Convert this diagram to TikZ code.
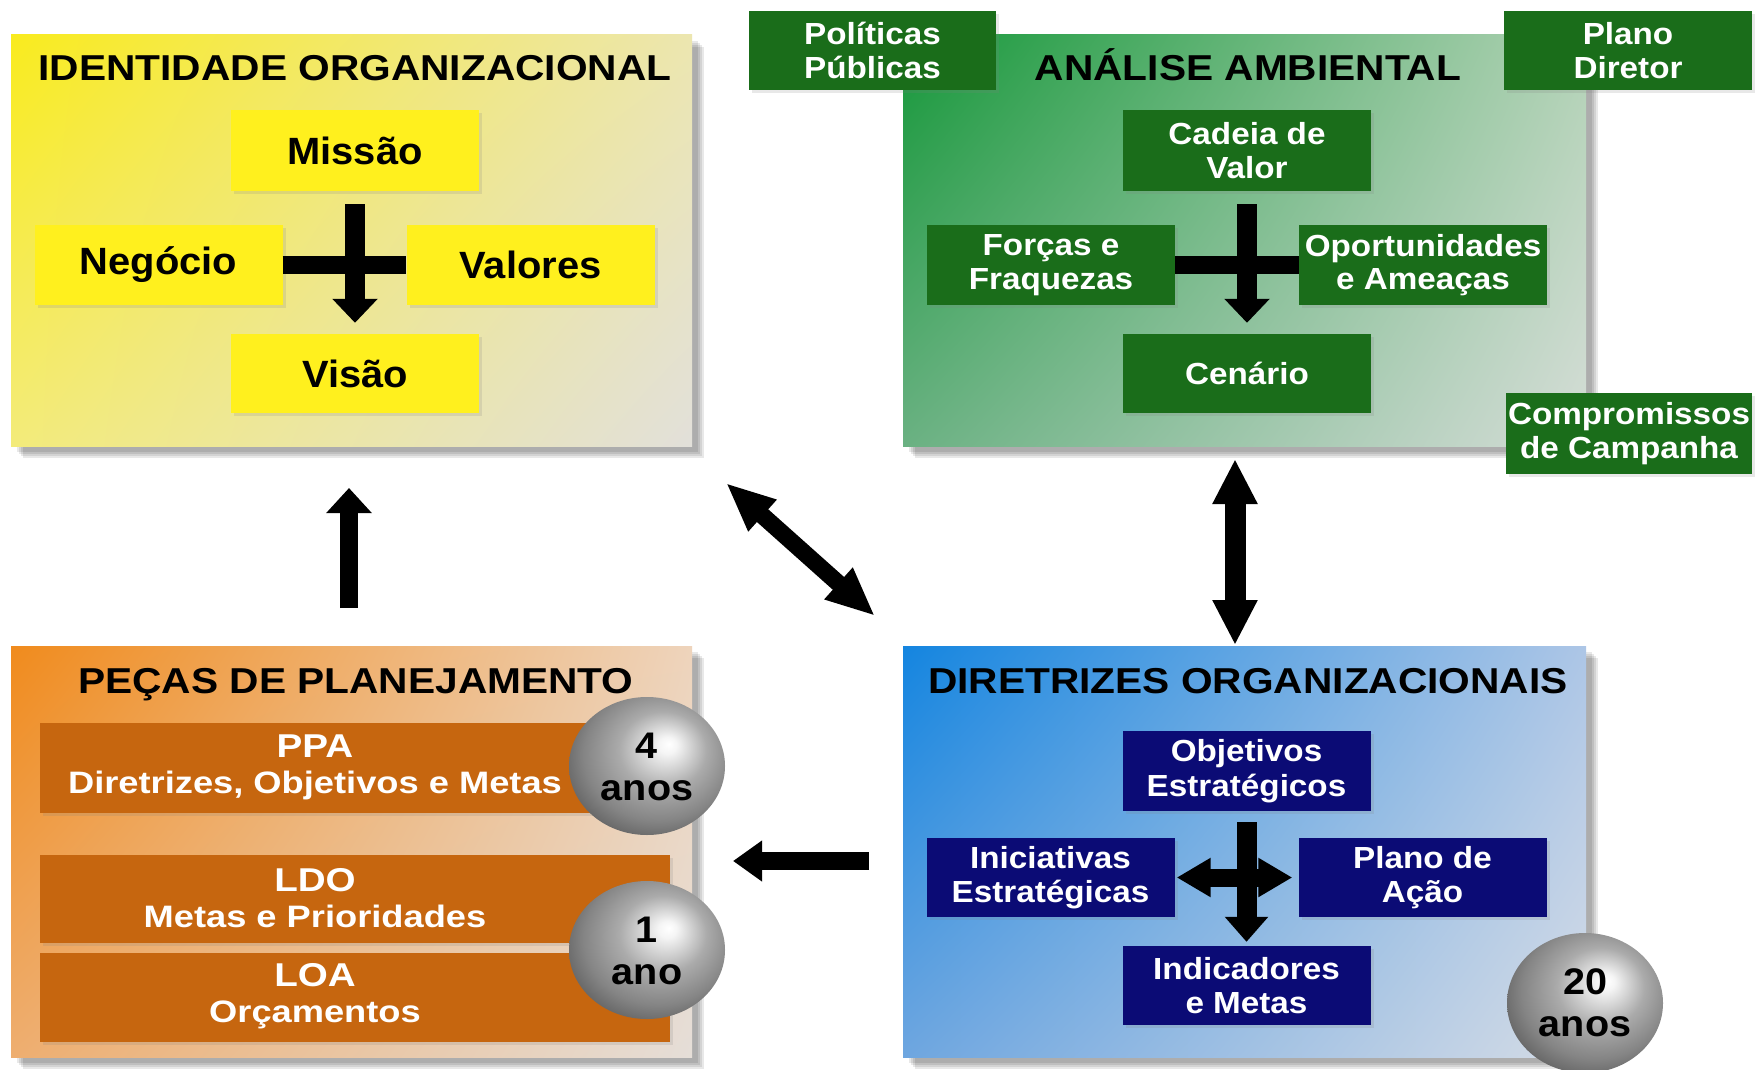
\documentclass[tikz,border=0pt]{standalone}
\usepackage{fontspec}
\setmainfont{Liberation Sans}
\newfontfamily\fTitle[FakeStretch=1.13]{Liberation Sans}
\newfontfamily\fYel[FakeStretch=1.05]{Liberation Sans}
\newfontfamily\fBox[FakeStretch=1.09]{Liberation Sans}
\newfontfamily\fOra[FakeStretch=1.17]{Liberation Sans}
\newfontfamily\fSph[FakeStretch=1.07]{Liberation Sans}
\usetikzlibrary{arrows.meta,shadows,shadings}

\definecolor{ybox}{HTML}{FFF01E}
\definecolor{gbox}{HTML}{1A6D1A}
\definecolor{obox}{HTML}{C6660F}
\definecolor{bbox}{HTML}{0B0B75}

\definecolor{yUL}{HTML}{F9EB1E}\definecolor{yUR}{HTML}{ECE6B0}
\definecolor{yLL}{HTML}{F3EB7A}\definecolor{yLR}{HTML}{E2E0DA}
\definecolor{gUL}{HTML}{16983A}\definecolor{gUR}{HTML}{B2D2B6}
\definecolor{gLL}{HTML}{6AB182}\definecolor{gLR}{HTML}{D5DDD7}
\definecolor{oUL}{HTML}{F08B1D}\definecolor{oUR}{HTML}{EED4BC}
\definecolor{oLL}{HTML}{EEAE70}\definecolor{oLR}{HTML}{E5DED8}
\definecolor{bUL}{HTML}{1485E0}\definecolor{bUR}{HTML}{ADC6E6}
\definecolor{bLL}{HTML}{6EA6E0}\definecolor{bLR}{HTML}{D5DCE6}

\pgfdeclareradialshading{sphereshade}{\pgfqpoint{7bp}{8bp}}{%
  color(0bp)=(white); color(3bp)=(white!96!black); color(14bp)=(black!33);
  color(24bp)=(black!48); color(36bp)=(black!72); color(50bp)=(black!75)}

\newcommand{\orahead}[1]{{\fontsize{33}{36}\selectfont #1}}

\tikzset{
  panelshadow/.style={fill=black, opacity=0.09},
  ptitle/.style={anchor=base, font=\fTitle\bfseries\fontsize{36}{40}\selectfont, text=black, inner sep=0},
  boxbase/.style={rectangle, inner sep=0, align=center, minimum width=248, minimum height=80,
     drop shadow={shadow xshift=3pt, shadow yshift=-3pt, opacity=0.18}},
  yelbox/.style={boxbase, fill=ybox, text=black, font=\fYel\bfseries\fontsize{38}{40}\selectfont},
  grnbox/.style={boxbase, fill=gbox, text=white, font=\fBox\bfseries\fontsize{30.5}{33.5}\selectfont},
  blubox/.style={boxbase, fill=bbox, text=white, font=\fBox\bfseries\fontsize{30.5}{34.5}\selectfont},
  orabox/.style={boxbase, fill=obox, minimum width=630},
  oratext/.style={inner sep=0, align=center, text=white, font=\fOra\bfseries\fontsize{31}{36}\selectfont},
  spheretext/.style={inner sep=0, align=center, text=black, font=\fSph\bfseries\fontsize{37}{42.5}\selectfont},
  bar/.style={draw=black, line width=18pt},
  crossdown/.style={draw=black, line width=20pt, -{Triangle[length=24pt,width=44pt]}},
}

\begin{document}
\begin{tikzpicture}[x=1pt, y=-1pt]
\useasboundingbox (0,0) rectangle (1756,1070);
\clip (0,0) rectangle (1756,1070);
\fill[white] (0,0) rectangle (1756,1070);

% ---------- panel shadows ----------
\foreach \px/\py/\qx/\qy in {11/35/692/446, 903/35/1586/446, 11/646/692/1057, 903/646/1586/1057}{
  \foreach \s in {6,8,10,12}{
    \fill[panelshadow] (\px+\s,\py+\s) rectangle (\qx+\s,\qy+\s);
  }
}

% ---------- panels ----------
\shade[upper left=yUL, upper right=yUR, lower left=yLL, lower right=yLR] (11,35) rectangle (692,446);
\shade[upper left=gUL, upper right=gUR, lower left=gLL, lower right=gLR] (903,35) rectangle (1586,446);
\shade[upper left=oUL, upper right=oUR, lower left=oLL, lower right=oLR] (11,646) rectangle (692,1057);
\shade[upper left=bUL, upper right=bUR, lower left=bLL, lower right=bLR] (903,646) rectangle (1586,1057);

% ---------- titles ----------
\node[ptitle] (tI) at (355,81) {IDENTIDADE ORGANIZACIONAL};
\node[ptitle] (tA) at (1248,81) {ANÁLISE AMBIENTAL};
\node[ptitle] (tP) at (356,693) {PEÇAS DE PLANEJAMENTO};
\node[ptitle] (tD) at (1248,693) {DIRETRIZES ORGANIZACIONAIS};

% ---------- identidade organizacional ----------
\node[yelbox, minimum height=81] (missao) at (355,150.5) {Missão};
\node[yelbox] (negocio) at (158.5,265) {Negócio};
\node[yelbox] (valores) at (530.5,265) {Valores};
\node[yelbox, minimum height=79] (visao) at (355,373.5) {Visão};
\draw[bar] (negocio.east) -- (valores.west);
\draw[crossdown, shorten <=13pt, shorten >=11pt] (missao.south) -- (visao.north);

% ---------- analise ambiental ----------
\node[grnbox, minimum height=81] (cadeia) at (1247,150.5) {Cadeia de\\Valor};
\node[grnbox] (forcas) at (1051,265) {Forças e\\Fraquezas};
\node[grnbox] (oport) at (1423,265) {Oportunidades\\e Ameaças};
\node[grnbox, minimum height=79] (cenario) at (1247,373.5) {Cenário};
\draw[bar] (forcas.east) -- (oport.west);
\draw[crossdown, shorten <=13pt, shorten >=11pt] (cadeia.south) -- (cenario.north);

\node[grnbox, minimum height=79, minimum width=247] (politicas) at (872.5,50.5) {Políticas\\Públicas};
\node[grnbox, minimum height=79] (plano) at (1628,50.5) {Plano\\Diretor};
\node[grnbox, minimum height=81, minimum width=246] (comprom) at (1629,433.5) {Compromissos\\de Campanha};

% ---------- diretrizes organizacionais ----------
\node[blubox] (objetivos) at (1246.5,771) {Objetivos\\Estratégicos};
\node[blubox, minimum height=79] (iniciativas) at (1050.5,877.5) {Iniciativas\\Estratégicas};
\node[blubox, minimum height=79] (planoacao) at (1422.5,877.5) {Plano de\\Ação};
\node[blubox, minimum height=79] (indicadores) at (1246.5,985.5) {Indicadores\\e Metas};
\draw[draw=black, line width=18pt, {Triangle[length=34pt,width=37pt]}-{Triangle[length=34pt,width=37pt]},
      shorten <=2pt, shorten >=6pt] (iniciativas.east) -- (planoacao.west);
\draw[draw=black, line width=20pt, -{Triangle[length=25pt,width=42pt]}, shorten <=11pt, shorten >=4pt]
      (objetivos.south) -- (indicadores.north);

% ---------- pecas de planejamento ----------
\node[orabox, minimum height=90] (ppa) at (355,768) {};
\node[orabox, minimum height=88] (ldo) at (355,899) {};
\node[orabox, minimum height=89] (loa) at (355,997.5) {};
\node[oratext] (ppat) at (315,767) {\orahead{PPA}\\Diretrizes, Objetivos e Metas};
\node[oratext] (ldot) at (315,898) {\orahead{LDO}\\Metas e Prioridades};
\node[oratext] (loat) at (315,996) {\orahead{LOA}\\Orçamentos};

% ---------- spheres ----------
\shade[shading=sphereshade] (647,766) ellipse [x radius=78, y radius=69];
\node[spheretext] (s4) at (647,767) {4\\anos};
\shade[shading=sphereshade] (647,950) ellipse [x radius=78, y radius=69];
\node[spheretext] (s1) at (647,951) {1\\ano};
\shade[shading=sphereshade] (1585,1003) ellipse [x radius=78, y radius=70];
\node[spheretext] (s20) at (1585,1003) {20\\anos};

% ---------- connectors between panels ----------
\coordinate (upA) at (349,608);
\coordinate (upB) at (349,488);
\draw[draw=black, line width=18pt, -{Triangle[length=25pt,width=44pt]}] (upA) -- (upB);

\coordinate (dgA) at (726,483);
\coordinate (dgB) at (875,616);
\draw[draw=black, line width=17pt, {Triangle[length=49pt,width=39pt]}-{Triangle[length=49pt,width=39pt]}] (dgA) -- (dgB);

\coordinate (vdA) at (1235,459);
\coordinate (vdB) at (1235,645);
\draw[draw=black, line width=21pt, {Triangle[length=45pt,width=42pt]}-{Triangle[length=45pt,width=42pt]}] (vdA) -- (vdB);

\coordinate (lfA) at (869,861);
\coordinate (lfB) at (733,861);
\draw[draw=black, line width=18pt, -{Triangle[length=29pt,width=39pt]}] (lfA) -- (lfB);
\end{tikzpicture}
\end{document}
